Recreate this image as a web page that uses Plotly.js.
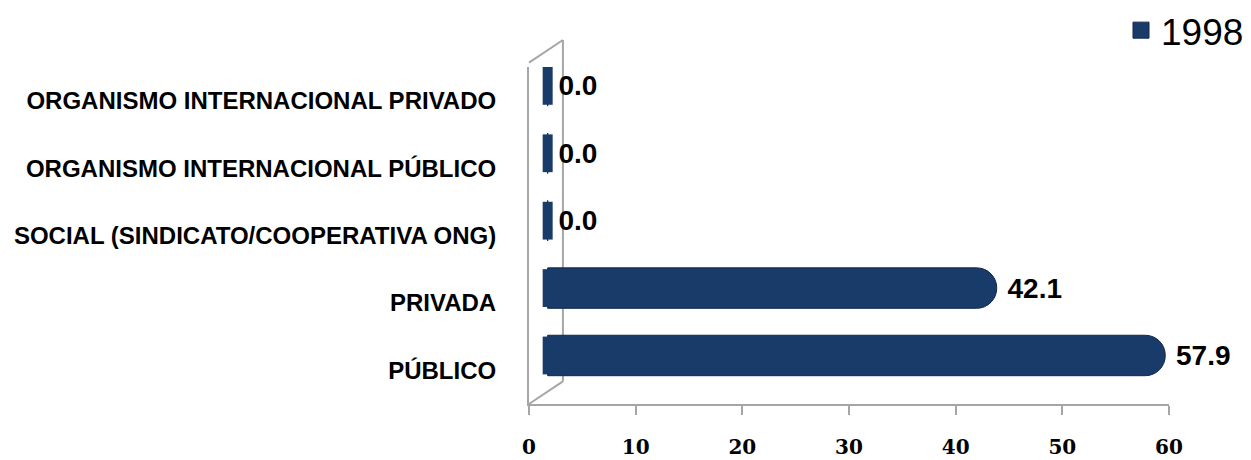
<!DOCTYPE html>
<html><head><meta charset="utf-8">
<script src="https://cdn.plot.ly/plotly-3.0.1.min.js"></script>
<style>body{margin:0;background:#fff}#chart{width:1251px;height:460px}</style>
</head><body><div id="chart"></div>
<script>
const categories = ["PÚBLICO", "PRIVADA", "SOCIAL (SINDICATO/COOPERATIVA ONG)", "ORGANISMO INTERNACIONAL PÚBLICO", "ORGANISMO INTERNACIONAL PRIVADO"];
const values1998 = [57.9, 42.1, 0.0, 0.0, 0.0];
const seriesName = "1998";
const xTicks = [0, 10, 20, 30, 40, 50, 60];

const navy = "#183B69";
const wall = "#a6a6a6";
// 3D depth offset of the bars (in axis units) to mimic the original perspective
const depthX = 1.75, depthY = 0.22;

const traces = [
  {
    // invisible trace that anchors the front axes (category labels and value ticks)
    type: "scatter", mode: "markers", showlegend: false,
    x: values1998, y: categories, xaxis: "x", yaxis: "y",
    marker: {opacity: 0}, hoverinfo: "skip"
  },
  {
    type: "bar", orientation: "h", name: seriesName, showlegend: false, legendgroup: "s",
    x: values1998, y: categories, xaxis: "x2", yaxis: "y2",
    marker: {color: navy, line: {color: "#10294B", width: 1}},
    width: 0.6,
    text: values1998.map(v => "\u00A0" + v.toFixed(1)),
    textposition: "outside", cliponaxis: false,
    textfont: {family: "Liberation Sans, Arial", size: 28, color: "#000", weight: "bold"},
    hoverinfo: "x+y"
  },
  {
    type: "scatter", mode: "markers", showlegend: false, legendgroup: "s",
    x: values1998.map(() => 0), y: categories, xaxis: "x2", yaxis: "y2",
    marker: {symbol: "line-ns", size: 27, color: navy, line: {color: navy, width: 10}},
    cliponaxis: false, hoverinfo: "skip"
  },
  {
    // legend entry (square swatch)
    type: "scatter", mode: "markers", name: seriesName, legendgroup: "s",
    x: [null], y: [null], xaxis: "x2", yaxis: "y2",
    marker: {symbol: "square", size: 16, color: navy, line: {color: "#10294B", width: 1}},
    hoverinfo: "skip"
  }
];
const layout = {
  width: 1251, height: 460,
  margin: {l: 529, r: 82, t: 67, b: 56, autoexpand: false},
  paper_bgcolor: "#fff", plot_bgcolor: "#fff",
  barcornerradius: 20,
  showlegend: true,
  legend: {x: 1.125, xanchor: "right", y: 1.2, yanchor: "top",
           font: {family: "Liberation Sans, Arial", size: 37, color: "#000"},
           itemsizing: "trace", itemwidth: 30, bgcolor: "rgba(0,0,0,0)"},
  xaxis: {range: [0, 60], tickvals: xTicks, ticktext: xTicks.map(String),
          showgrid: false, zeroline: false, showline: true, linecolor: wall, linewidth: 2,
          ticks: "outside", ticklen: 9, tickcolor: wall, tickwidth: 2,
          tickfont: {family: "DejaVu Serif", size: 20, color: "#000", weight: "bold"},
          ticklabelstandoff: 15},
  yaxis: {type: "category", categoryorder: "array", categoryarray: categories, range: [-0.5, 4.5],
          showgrid: false, zeroline: false, showline: true, linecolor: wall, linewidth: 2,
          ticks: "", ticklabelstandoff: 26,
          tickfont: {family: "Liberation Sans, Arial", size: 24, color: "#000", weight: "bold"}},
  xaxis2: {overlaying: "x", range: [-depthX, 60 - depthX], visible: false},
  yaxis2: {overlaying: "y", type: "category", categoryorder: "array", categoryarray: categories,
           range: [-0.5 - depthY, 4.5 - depthY], visible: false},
  shapes: [
    {type: "line", xref: "paper", yref: "paper", x0: 0, y0: 0, x1: 0.053, y1: 0.067, line: {color: wall, width: 2}, layer: "below"},
    {type: "line", xref: "paper", yref: "paper", x0: 0.053, y0: 0.067, x1: 0.053, y1: 1.08, line: {color: wall, width: 2}, layer: "below"},
    {type: "line", xref: "paper", yref: "paper", x0: 0, y0: 1.013, x1: 0.053, y1: 1.08, line: {color: wall, width: 2}, layer: "below"}
  ]
};
Plotly.newPlot("chart", traces, layout, {displayModeBar: false});
</script></body></html>
